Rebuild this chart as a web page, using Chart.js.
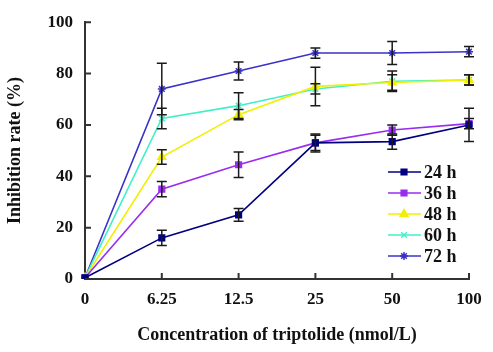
<!DOCTYPE html>
<html>
<head>
<meta charset="utf-8">
<script src="https://cdn.jsdelivr.net/npm/chart.js@4/dist/chart.umd.min.js"></script>
<style>
html, body { margin: 0; padding: 0; background: #fff; }
canvas { display: block; }
</style>
</head>
<body>
<canvas id="chart" width="493" height="352"></canvas>
<script>
const concentrations = ["0", "6.25", "12.5", "25", "50", "100"];

const rate24 = [0.5, 16, 25, 53, 53.5, 60];
const rate36 = [0.5, 35, 44.5, 53, 58, 60.5];
const rate48 = [0.5, 47.5, 64, 75, 76.5, 77.5];
const rate60 = [0.5, 62.5, 67.5, 74, 77, 77.5];
const rate72 = [0.5, 74, 81, 88, 88, 88.5];

const err24 = [0, 3, 2.5, 3.5, 3, 6.5];
const err36 = [0, 3, 5, 3, 2, 2];
const err48 = [0, 2.8, 2, 7.5, 3, 2];
const err60 = [0, 4, 5, 2, 4, 2];
const err72 = [0, 10, 3.5, 2, 4.5, 2];

const seriesLabels = ["24 h", "36 h", "48 h", "60 h", "72 h"];

const FONT = "'Liberation Serif', 'Times New Roman', serif";
const AXIS_COLOR = "#333";

function series(label, data, errors, color, pointStyle, radius) {
    return {
        label, data, errors,
        borderColor: color,
        backgroundColor: color,
        borderWidth: 1.6,
        pointStyle,
        pointRadius: radius,
        pointBorderWidth: 1.5,
        tension: 0
    };
}

// error bars, drawn on the y scale of the chart
const errorBars = {
    id: "errorBars",
    afterDatasetsDraw(chart) {
        const ctx = chart.ctx;
        const ys = chart.scales.y;
        ctx.save();
        ctx.strokeStyle = "#1a1a1a";
        ctx.lineWidth = 1.5;
        chart.data.datasets.forEach((ds, i) => {
            const meta = chart.getDatasetMeta(i);
            meta.data.forEach((pt, j) => {
                const e = ds.errors[j];
                if (!e) return;
                const top = ys.getPixelForValue(ds.data[j] + e);
                const bot = ys.getPixelForValue(ds.data[j] - e);
                ctx.beginPath();
                ctx.moveTo(pt.x, top); ctx.lineTo(pt.x, bot);
                ctx.moveTo(pt.x - 5, top); ctx.lineTo(pt.x + 5, top);
                ctx.moveTo(pt.x - 5, bot); ctx.lineTo(pt.x + 5, bot);
                ctx.stroke();
            });
        });
        ctx.restore();
    }
};

// tick marks pointing into the plot
const innerTicks = {
    id: "innerTicks",
    afterDraw(chart) {
        const ctx = chart.ctx;
        const { x, y } = chart.scales;
        const area = chart.chartArea;
        ctx.save();
        ctx.strokeStyle = AXIS_COLOR;
        ctx.lineWidth = 2;
        ctx.beginPath();
        y.ticks.forEach((t, i) => {
            const py = y.getPixelForTick(i);
            ctx.moveTo(area.left, py); ctx.lineTo(area.left + 6, py);
        });
        x.ticks.forEach((t, i) => {
            if (i === 0) return;
            const px = x.getPixelForTick(i);
            ctx.moveTo(px, area.bottom); ctx.lineTo(px, area.bottom - 6);
        });
        ctx.stroke();
        ctx.restore();
    }
};

// legend box in the lower right of the plot
const sideLegend = {
    id: "sideLegend",
    afterDraw(chart) {
        const ctx = chart.ctx;
        const left = 388, top = 172, rowH = 21;
        ctx.save();
        chart.data.datasets.forEach((ds, i) => {
            const cy = top + i * rowH;
            ctx.strokeStyle = ds.borderColor;
            ctx.fillStyle = ds.backgroundColor;
            ctx.lineWidth = ds.borderWidth;
            ctx.beginPath();
            ctx.moveTo(left, cy); ctx.lineTo(left + 33, cy);
            ctx.stroke();
            ctx.lineWidth = ds.pointBorderWidth;
            Chart.helpers.drawPoint(ctx, {
                pointStyle: ds.pointStyle, radius: ds.pointRadius,
                rotation: 0, borderWidth: ds.pointBorderWidth
            }, left + 16, cy);
            ctx.fillStyle = "#111";
            ctx.font = "bold 18px " + FONT;
            ctx.textBaseline = "middle";
            ctx.fillText(ds.label, left + 36, cy + 1);
        });
        ctx.restore();
    }
};

new Chart(document.getElementById("chart"), {
    type: "line",
    data: {
        labels: concentrations,
        datasets: [
            series(seriesLabels[0], rate24, err24, "#000080", "rect", 4),
            series(seriesLabels[1], rate36, err36, "#9a2cf0", "rect", 4),
            series(seriesLabels[2], rate48, err48, "#f0f000", "triangle", 4.5),
            series(seriesLabels[3], rate60, err60, "#40f0c8", "crossRot", 4),
            series(seriesLabels[4], rate72, err72, "#3a32c8", "star", 4)
        ]
    },
    options: {
        responsive: false,
        animation: false,
        layout: { padding: { left: 0, right: 24, top: 20, bottom: 0 } },
        plugins: {
            legend: { display: false },
            tooltip: { enabled: false }
        },
        scales: {
            x: {
                type: "category",
                offset: false,
                grid: { display: false, drawTicks: false },
                border: { display: true, color: AXIS_COLOR, width: 2 },
                ticks: { color: "#111", padding: 10, maxRotation: 0,
                    font: { family: FONT, size: 17, weight: "bold" } },
                title: { display: true, text: "Concentration of triptolide (nmol/L)",
                    color: "#111", padding: { top: 0, bottom: 6 },
                    font: { family: FONT, size: 18, weight: "bold" } },
                afterFit(s) { s.height = 73; }
            },
            y: {
                min: 0, max: 100,
                grid: { display: false, drawTicks: false },
                border: { display: true, color: AXIS_COLOR, width: 2 },
                ticks: { stepSize: 20, color: "#111", padding: 12,
                    font: { family: FONT, size: 17, weight: "bold" } },
                title: { display: true, text: "Inhibition rate (%)",
                    color: "#111", padding: { top: 5, bottom: 0 },
                    font: { family: FONT, size: 18, weight: "bold" } },
                afterFit(s) { s.width = 85; }
            }
        }
    },
    plugins: [errorBars, innerTicks, sideLegend]
});
</script>
</body>
</html>
